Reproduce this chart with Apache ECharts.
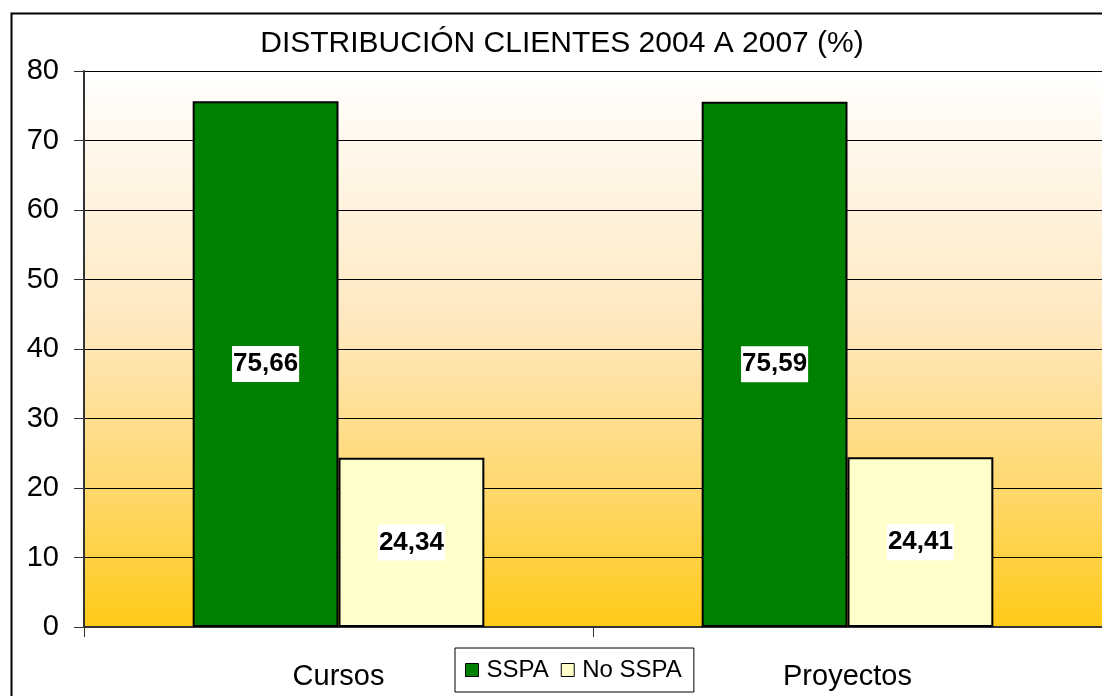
<!DOCTYPE html>
<html>
<head>
<meta charset="utf-8">
<script src="https://cdn.jsdelivr.net/npm/echarts@6/dist/echarts.min.js"></script>
<style>
html,body{margin:0;padding:0;background:#fff;}
#c{width:1102px;height:696px;}
</style>
</head>
<body>
<div id="c"></div>
<script>
var titleText = 'DISTRIBUCIÓN CLIENTES 2004 A 2007 (%)';
var categories = ['Cursos', 'Proyectos'];
var seriesNames = ['SSPA', 'No SSPA'];
var sspaValues = [75.66, 75.59];
var noSspaValues = [24.34, 24.41];
var yTicks = [0, 10, 20, 30, 40, 50, 60, 70, 80];

var FF = 'Liberation Sans, Arial, sans-serif';
var chart = echarts.init(document.getElementById('c'));
var fmt = function (p) { return p.value.toFixed(2).replace('.', ','); };
var labelCfg = {
  show: true, position: 'inside', formatter: fmt,
  color: '#000', fontWeight: 'bold', fontSize: 26,
  fontFamily: FF,
  backgroundColor: '#fff', padding: [6, 1, 4, 1]
};
chart.setOption({
  animation: false,
  backgroundColor: '#fff',
  title: {
    text: titleText, left: 557, top: 24, textAlign: 'center',
    textStyle: { fontFamily: FF, fontWeight: 'normal', fontSize: 30, color: '#000' }
  },
  graphic: [{
    type: 'rect', left: 9, top: 11, z: -1, silent: true,
    shape: { width: 1110, height: 700 },
    style: { fill: 'none', stroke: '#000', lineWidth: 2 }
  }],
  legend: {
    data: seriesNames, left: 455, top: 648,
    icon: 'rect',
    itemWidth: 13, itemHeight: 13, itemGap: 12,
    padding: [10, 12, 10, 10],
    borderColor: '#000', borderWidth: 1,
    itemStyle: { borderColor: '#000', borderWidth: 1 },
    textStyle: { fontFamily: FF, fontSize: 24, color: '#000', padding: [0, 0, 0, 3] }
  },
  grid: {
    left: 84, top: 71, right: -8, bottom: 69, show: true,
    borderWidth: 0,
    backgroundColor: {
      type: 'linear', x: 0, y: 0, x2: 0, y2: 1,
      colorStops: [
        { offset: 0, color: '#FFFFFF' },
        { offset: 0.45, color: '#FFE8C0' },
        { offset: 0.75, color: '#FFD86E' },
        { offset: 1, color: '#FFCA18' }
      ]
    }
  },
  xAxis: {
    type: 'category', data: categories,
    axisLine: { lineStyle: { color: '#333', width: 2 } },
    axisTick: { show: true, length: 10, lineStyle: { color: '#333', width: 1 } },
    axisLabel: { fontFamily: FF, fontSize: 29, color: '#000', margin: 35 }
  },
  yAxis: {
    type: 'value', min: 0, max: 80, interval: 10,
    axisLine: { show: true, lineStyle: { color: '#333', width: 2 } },
    axisTick: { show: true, length: 10, lineStyle: { color: '#333', width: 1 } },
    axisLabel: { fontFamily: FF, fontSize: 29, color: '#000', margin: 25,
      formatter: function (v) { return yTicks.indexOf(v) >= 0 ? String(v) : ''; } },
    splitLine: { show: true, lineStyle: { color: '#000', width: 1 } }
  },
  series: [
    {
      name: seriesNames[0], type: 'bar', data: sspaValues,
      barGap: '0%', barCategoryGap: '42.7%',
      itemStyle: { color: '#008000', borderColor: '#000', borderWidth: 2 },
      label: labelCfg
    },
    {
      name: seriesNames[1], type: 'bar', data: noSspaValues,
      itemStyle: { color: '#FFFFCC', borderColor: '#000', borderWidth: 2 },
      label: labelCfg
    }
  ]
});
</script>
</body>
</html>
